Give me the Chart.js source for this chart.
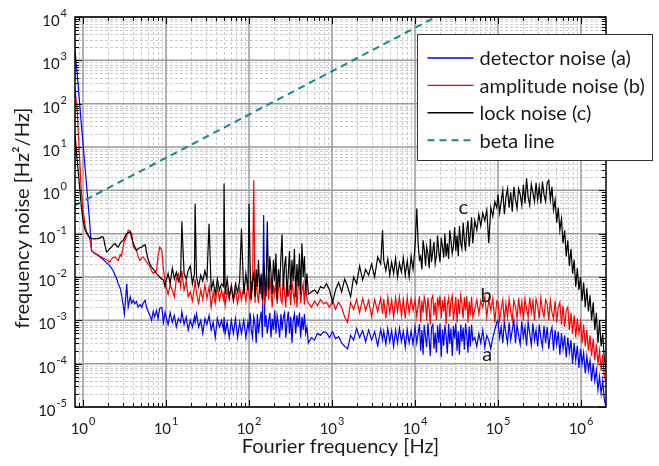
<!DOCTYPE html>
<html>
<head>
<meta charset="utf-8">
<script src="https://cdn.jsdelivr.net/npm/chart.js@4.4.1/dist/chart.umd.min.js"></script>
<style>
  body { margin: 0; background: #fff; }
</style>
</head>
<body>
<canvas id="noise-data" width="659" height="466"></canvas>
<script>
// Fourier frequencies [Hz], shared by the three measured spectra
const freq = [
    // 0.8 - 10 Hz
    0.8, 0.85, 0.9, 0.95, 1.0, 1.06, 1.12, 1.2, 1.27, 1.35, 1.45, 1.53, 1.6, 1.68, 1.76, 1.85, 1.93, 2.0, 2.1, 2.2,
    2.3, 2.43, 2.55, 2.66, 2.8, 2.9, 3.05, 3.15, 3.25, 3.36, 3.5, 3.7, 3.86, 4.04, 4.2, 4.4, 4.6, 4.86, 5.1, 5.3,
    5.6, 5.85, 6.1, 6.4, 6.7, 7.0, 7.3, 7.7, 8.0, 8.4, 8.9, 9.3, 9.7,
    // 10 - 100 Hz
    10, 10.6, 11.2, 11.9, 12.6, 13.3, 14.1, 15, 15.5, 16.5, 17.5, 18.5, 19.6, 20.8, 22, 22.4, 23.3, 24.7, 26.2, 27.7,
    29.4, 31.1, 33, 35, 37, 39.2, 41.5, 44, 46.6, 49.4, 50, 51.5, 54.5, 57.8, 61.2, 64.8, 68.7, 72.8, 77.1, 81,
    86.5, 91.6, 97, 100,
    // 100 - 500 Hz
    103, 106.5, 110, 114, 118, 122, 126, 130, 135, 140, 145, 150, 155, 160, 166, 172, 178, 184, 190, 197,
    204, 211, 218, 226, 234, 242, 250, 259, 268, 277, 287, 297, 307, 318, 329, 340, 352, 365, 378, 391,
    405, 419, 434, 449, 465, 481, 498,
    // 500 Hz - 10 kHz
    520, 565, 615, 668, 726, 790, 858, 933, 1015, 1100, 1200, 1305, 1420, 1540, 1675, 1820, 1980, 2150, 2340, 2540,
    2760, 3000, 3260, 3550, 3860, 4060, 4200, 4450, 4700, 4960, 5230, 5520, 5830, 6150, 6490, 6850, 7230, 7630, 8050, 8500,
    8970, 9470,
    // 10 - 50 kHz
    10000, 10500, 10900, 11300, 11700, 12100, 12500, 12900, 13400, 13800, 14300, 14800, 15300, 15800, 16400, 16900,
    17500, 18100, 18700, 19400, 20000, 20700, 21400, 22200, 22900, 23700, 24500, 25400, 26200, 27100, 28100, 29000,
    30000, 31000, 32100, 33200, 34300, 35500, 36700, 38000, 39300, 40600, 42000, 43400, 44900, 46400, 48000, 49700,
    // 50 - 100 kHz
    52500, 55500, 58700, 62000, 65500, 69300, 73200, 77400, 81800, 86500, 91400, 96600,
    // 100 kHz - 2 MHz
    100000, 104500, 109200, 114100, 119200, 124600, 130200, 136000, 142100, 148500, 155200, 162200, 169500, 177100,
    185100, 193400, 202100, 211200, 220700, 230600, 241000, 251900, 263200, 275000, 287400, 300300, 313800, 328000,
    342700, 358100, 374200, 391100, 408700, 427100, 446300, 466400, 487400, 509300, 532200, 556200, 581200, 607400,
    634700, 663300, 693100, 724300, 756900, 791000, 826600, 863800, 902700, 943300, 985800, 1030000, 1076000, 1125000,
    1175000, 1228000, 1284000, 1341000, 1402000, 1465000, 1531000, 1600000, 1672000, 1747000, 1826000, 1908000, 1995000
];

// detector noise (a), Hz^2/Hz
const detectorNoise = [
    1700, 480, 130, 37, 12, 3.2, 0.9, 0.19, 0.04, 0.036, 0.033, 0.031, 0.029, 0.027, 0.025, 0.023, 0.021, 0.02, 0.018, 0.016,
    0.014, 0.011, 0.009, 0.007, 0.0055, 0.004, 0.0022, 0.0014, 0.003, 0.007, 0.002, 0.0035, 0.0025, 0.0029, 0.0024, 0.0027, 0.002, 0.0023, 0.002, 0.0025,
    0.0029, 0.0019, 0.0016, 0.0013, 0.001, 0.0016, 0.0012, 0.0017, 0.0011, 0.0019, 0.002, 0.0009, 0.0015,

    0.0012, 0.0008, 0.0015, 0.0009, 0.0013, 0.0007, 0.0011, 0.0009, 0.0016, 0.0008, 0.0012, 0.0006, 0.001, 0.0007, 0.0012, 0.0009, 0.0014, 0.0007, 0.001, 0.0005,
    0.0011, 0.0008, 0.0013, 0.0006, 0.0009, 0.0004, 0.0011, 0.0007, 0.001, 0.0006, 0.0012, 0.0005, 0.0009, 0.0004, 0.001, 0.0005, 0.0011, 0.0004, 0.0009, 0.0005,
    0.001, 0.0004, 0.0009, 0.0006,

    0.0015, 0.0006, 0.0004, 0.0012, 0.0008, 0.0003, 0.0014, 0.0005, 0.001, 0.0016, 0.0004, 0.27, 0.0007, 0.0013, 0.0005, 0.0009, 0.0015, 0.0004, 0.0011, 0.0006,
    0.0017, 0.0005, 0.0013, 0.0008, 0.0004, 0.0014, 0.0006, 0.0012, 0.0015, 0.0004, 0.0009, 0.0016, 0.0005, 0.0012, 0.0003, 0.001, 0.0014, 0.0005, 0.0013, 0.0007,
    0.0015, 0.0004, 0.0012, 0.0006, 0.0014, 0.0005, 0.0007,

    3e-4, 4e-4, 3.5e-4, 5e-4, 4.5e-4, 5.5e-4, 5.2e-4, 4e-4, 5.5e-4, 3.8e-4, 4.2e-4, 3e-4, 2.5e-4, 2.2e-4, 4.5e-4, 3.5e-4, 6.5e-4, 4e-4, 5.8e-4, 3.2e-4,
    6e-4, 3.5e-4, 5.5e-4, 2.6e-4, 6.2e-4, 3.5e-4, 5.6e-4, 2.8e-4, 6.5e-4, 3.2e-4, 5.8e-4, 2.5e-4, 6e-4, 3e-4, 6.6e-4, 3.3e-4, 5.5e-4, 2.4e-4, 6.2e-4, 3e-4,
    5.7e-4, 2.8e-4,

    7e-4, 3e-4, 5e-4, 8.2e-4, 2e-4, 6e-4, 1.6e-4, 7.8e-4, 4e-4, 2.4e-4, 8.5e-4, 3.5e-4, 1.5e-4, 6.8e-4, 8e-4, 2.2e-4,
    5.2e-4, 1.8e-4, 7.6e-4, 3e-4, 8.4e-4, 1.4e-4, 6.2e-4, 2.6e-4, 7.8e-4, 4.4e-4, 1.7e-4, 8.2e-4, 2.9e-4, 6.5e-4, 1.5e-4, 7.4e-4,
    3.8e-4, 8.6e-4, 2e-4, 5.6e-4, 1.6e-4, 8e-4, 3.2e-4, 6.8e-4, 2.1e-4, 8.4e-4, 4.6e-4, 1.8e-4, 7.2e-4, 2.5e-4, 8e-4, 3.4e-4,

    4e-4, 2.5e-4, 5e-4, 3e-4, 6e-4, 2.4e-4, 4.5e-4, 3.5e-4, 2.2e-4, 4e-4, 6e-4, 9e-4,

    0.001, 0.0004, 0.0007, 0.0003, 0.00095, 0.0005, 0.0003, 0.0009, 0.00035, 0.0006, 0.001, 0.0003, 0.0008, 0.00045,
    0.00028, 0.00095, 0.0004, 0.0007, 0.00026, 0.0009, 0.0005, 0.00027, 0.00085, 0.00035, 0.0006, 0.00025, 0.0008, 0.0004,
    0.00024, 0.00075, 0.0003, 0.0007, 0.00022, 0.0005, 0.00068, 0.0002, 0.0006, 0.00028, 0.00055, 0.00016, 0.0005, 0.00022,
    0.00045, 0.00014, 0.0004, 0.00018, 0.00035, 0.0001, 0.0003, 0.00012, 0.00026, 0.00008, 0.00022, 0.0001, 0.00018, 0.00006,
    0.00015, 0.00007, 0.00012, 0.00004, 0.0001, 0.00004, 0.00007, 0.000025, 0.00005, 0.00002, 0.00004, 0.000015, 0.00001
];

// amplitude noise (b), Hz^2/Hz
const amplitudeNoise = [
    220, 70, 8, 1.0, 0.35, 0.15, 0.1, 0.08, 0.041, 0.037, 0.034, 0.032, 0.03, 0.029, 0.027, 0.026, 0.025, 0.024, 0.022, 0.026,
    0.028, 0.029, 0.026, 0.024, 0.033, 0.03, 0.05, 0.07, 0.075, 0.09, 0.12, 0.115, 0.1, 0.05, 0.045, 0.041, 0.03, 0.024, 0.028, 0.029,
    0.025, 0.022, 0.02, 0.017, 0.014, 0.012, 0.013, 0.014, 0.03, 0.049, 0.041, 0.015, 0.0085,

    0.006, 0.004, 0.0065, 0.005, 0.0035, 0.009, 0.012, 0.006, 0.014, 0.005, 0.008, 0.0035, 0.0045, 0.0028, 0.006, 0.009, 0.004, 0.0025, 0.005, 0.003,
    0.0065, 0.0032, 0.006, 0.002, 0.0045, 0.0025, 0.006, 0.003, 0.005, 0.003, 0.0045, 0.0022, 0.005, 0.003, 0.0065, 0.0028, 0.005, 0.0025, 0.0055, 0.003,
    0.006, 0.0028, 0.007, 0.004,

    0.003, 0.008, 0.005, 1.7, 0.0025, 0.009, 0.004, 0.0025, 0.01, 0.0045, 0.003, 0.007, 0.0022, 0.005, 0.008, 0.003, 0.0095, 0.0045, 0.002, 0.0065,
    0.004, 0.008, 0.0024, 0.0055, 0.0075, 0.003, 0.0025, 0.009, 0.0045, 0.002, 0.007, 0.0035, 0.0065, 0.0022, 0.008, 0.0045, 0.0028, 0.0075, 0.002, 0.006,
    0.0085, 0.0025, 0.005, 0.007, 0.0023, 0.008, 0.003,

    0.0025, 0.002, 0.0028, 0.0022, 0.003, 0.0024, 0.0026, 0.002, 0.0029, 0.0018, 0.0026, 0.002, 0.0012, 0.0009, 0.0026, 0.0018, 0.003, 0.0015, 0.0032, 0.0017,
    0.0029, 0.0012, 0.003, 0.0016, 0.0033, 0.0014, 0.0031, 0.0011, 0.0034, 0.0015, 0.0029, 0.0012, 0.0033, 0.0016, 0.0035, 0.0013, 0.003, 0.0011, 0.0034, 0.0015,
    0.0032, 0.0017,

    0.003, 0.0012, 0.0022, 0.0036, 0.0009, 0.0028, 0.0015, 0.0035, 0.0024, 0.001, 0.0033, 0.0018, 0.0008, 0.0031, 0.0037, 0.0013,
    0.0026, 0.001, 0.0034, 0.002, 0.0038, 0.0011, 0.0029, 0.0016, 0.0036, 0.0008, 0.0023, 0.0033, 0.0012, 0.0028, 0.0037, 0.001,
    0.0019, 0.0035, 0.0009, 0.0031, 0.0014, 0.0038, 0.0025, 0.0011, 0.0034, 0.0017, 0.0036, 0.0009, 0.0027, 0.0013, 0.0035, 0.0012,

    0.0018, 0.003, 0.0014, 0.0028, 0.002, 0.0035, 0.0012, 0.003, 0.0017, 0.0032, 0.0009, 0.0028,

    0.0026, 0.001, 0.0018, 0.003, 0.0009, 0.0024, 0.0012, 0.0031, 0.0016, 0.001, 0.0029, 0.0021, 0.0011, 0.0033,
    0.0014, 0.0027, 0.001, 0.0032, 0.0018, 0.0012, 0.0034, 0.0015, 0.0028, 0.001, 0.0031, 0.0022, 0.0011, 0.0033,
    0.0017, 0.0012, 0.003, 0.0024, 0.001, 0.0029, 0.0015, 0.0011, 0.0028, 0.0009, 0.002, 0.0026, 0.0008, 0.0022,
    0.0007, 0.0017, 0.002, 0.0006, 0.0015, 0.0005, 0.0013, 0.0004, 0.0011, 0.0005, 0.0009, 0.0003, 0.0008, 0.00025,
    0.0006, 0.0002, 0.00045, 0.00015, 0.00038, 0.00012, 0.00028, 0.0001, 0.0002, 0.00007, 0.00016, 0.00005, 0.00004
];

// lock noise (c), Hz^2/Hz
const lockNoise = [
    20, 5, 1.5, 0.45, 0.2, 0.12, 0.1, 0.08, 0.077, 0.076, 0.077, 0.077, 0.08, 0.085, 0.083, 0.05, 0.038, 0.04, 0.045, 0.049,
    0.055, 0.059, 0.052, 0.049, 0.06, 0.065, 0.07, 0.08, 0.09, 0.1, 0.105, 0.11, 0.08, 0.059, 0.05, 0.041, 0.045, 0.048, 0.049, 0.053,
    0.055, 0.035, 0.025, 0.02, 0.017, 0.015, 0.014, 0.012, 0.011, 0.01, 0.009, 0.0085, 0.006,

    0.008, 0.012, 0.007, 0.016, 0.009, 0.013, 0.008, 0.011, 0.19, 0.012, 0.009, 0.014, 0.018, 0.007, 0.012, 0.49, 0.01, 0.006, 0.011, 0.008,
    0.014, 0.009, 0.17, 0.005, 0.008, 0.004, 0.009, 0.005, 0.007, 0.006, 1.43, 0.004, 0.009, 0.0035, 0.006, 0.003, 0.007, 0.0045, 0.008, 0.13,
    0.004, 0.012, 0.005, 0.49,

    0.02, 0.003, 0.008, 0.012, 0.0035, 0.015, 0.006, 0.025, 0.004, 0.012, 0.003, 0.022, 0.009, 0.0035, 0.19, 0.005, 0.03, 0.012, 0.004, 0.025,
    0.008, 0.035, 0.003, 0.015, 0.006, 0.028, 0.096, 0.005, 0.018, 0.03, 0.0035, 0.012, 0.04, 0.005, 0.025, 0.008, 0.045, 0.0035, 0.02, 0.006,
    0.035, 0.004, 0.06, 0.01, 0.03, 0.004, 0.012,

    0.004, 0.0045, 0.005, 0.0042, 0.006, 0.0055, 0.007, 0.005, 0.0026, 0.005, 0.0075, 0.0045, 0.009, 0.006, 0.0035, 0.01, 0.007, 0.018, 0.0085, 0.015,
    0.011, 0.02, 0.01, 0.029, 0.02, 0.12, 0.024, 0.014, 0.026, 0.011, 0.022, 0.012, 0.027, 0.01, 0.021, 0.013, 0.028, 0.011, 0.024, 0.01,
    0.03, 0.015,

    0.05, 0.38, 0.06, 0.025, 0.03, 0.015, 0.07, 0.045, 0.018, 0.05, 0.035, 0.016, 0.075, 0.022, 0.04, 0.065,
    0.02, 0.03, 0.09, 0.035, 0.022, 0.08, 0.05, 0.028, 0.1, 0.03, 0.06, 0.026, 0.12, 0.07, 0.035, 0.05,
    0.14, 0.04, 0.09, 0.03, 0.15, 0.06, 0.045, 0.18, 0.07, 0.04, 0.12, 0.2, 0.05, 0.1, 0.24, 0.06,

    0.2, 0.12, 0.28, 0.15, 0.3, 0.2, 0.35, 0.06, 0.4, 0.25, 0.55, 0.4,

    0.8, 0.3, 0.55, 1.0, 0.28, 0.7, 1.1, 0.4, 0.9, 0.32, 1.2, 0.6, 0.38, 1.1,
    0.8, 0.45, 1.35, 0.5, 1.9, 0.7, 0.45, 1.4, 0.9, 0.55, 1.5, 0.6, 1.2, 0.5,
    1.6, 0.8, 0.55, 1.5, 1.7, 0.6, 1.2, 0.35, 0.6, 0.18, 0.4, 0.12, 0.22, 0.06,
    0.12, 0.03, 0.07, 0.018, 0.045, 0.012, 0.025, 0.006, 0.016, 0.005, 0.01, 0.0028, 0.0075, 0.002,
    0.0055, 0.0016, 0.0038, 0.001, 0.0026, 0.0006, 0.0015, 0.0003, 0.001, 0.00025, 0.0005, 0.00013, 0.00008
];

// beta separation line, end points
const betaFreq = [0.8, 2e6];
const betaLine = [0.45, 1.12e6];

const seriesNames = ['detector noise (a)', 'amplitude noise (b)', 'lock noise (c)', 'beta line'];
const seriesColors = ['#0000ff', '#ff0000', '#000000', '#108a8a'];

// curve letters: text, frequency, value at the text baseline
const curveTags = ['a', 'b', 'c'];
const tagFreq = [74300, 71600, 38200];
const tagValue = [1.15e-4, 2.64e-3, 0.279];

const xDecades = [0, 1, 2, 3, 4, 5, 6];
const yDecades = [-5, -4, -3, -2, -1, 0, 1, 2, 3, 4];

const fontName = 'Lato, "Open Sans", sans-serif';
const textColor = '#1a1a1a';

function toPoints(values) {
    return freq.map((f, i) => ({ x: f, y: values[i] }));
}

function minorValues(scale, fromExp, toExp) {
    const out = [];
    for (let e = fromExp; e <= toExp; e++) {
        for (let m = 2; m <= 9; m++) {
            const v = m * Math.pow(10, e);
            if (v > scale.min && v < scale.max) out.push(v);
        }
    }
    return out;
}

function powLabel(ctx, exp, px, baseline, align) {
    const base = '10';
    const sup = String(exp);
    ctx.font = '15px ' + fontName;
    const wb = ctx.measureText(base).width;
    ctx.font = '11px ' + fontName;
    const ws = ctx.measureText(sup).width;
    const total = wb + 1 + ws;
    const left = align === 'center' ? px - total / 2 : px - total;
    ctx.textAlign = 'left';
    ctx.textBaseline = 'alphabetic';
    ctx.font = '15px ' + fontName;
    ctx.fillText(base, left, baseline);
    ctx.font = '11px ' + fontName;
    ctx.fillText(sup, left + wb + 1, baseline - 9);
}

const axesPlugin = {
    id: 'axesPlugin',
    beforeDatasetsDraw(chart) {
        const { ctx, chartArea: a, scales: { x, y } } = chart;
        ctx.save();
        // minor grid, dashed
        ctx.strokeStyle = '#cdcdcd';
        ctx.lineWidth = 1;
        ctx.setLineDash([3, 2]);
        minorValues(x, -1, 6).forEach(v => {
            const p = Math.round(x.getPixelForValue(v)) + 0.5;
            ctx.beginPath(); ctx.moveTo(p, a.top); ctx.lineTo(p, a.bottom); ctx.stroke();
        });
        minorValues(y, -5, 3).forEach(v => {
            const p = Math.round(y.getPixelForValue(v)) + 0.5;
            ctx.beginPath(); ctx.moveTo(a.left, p); ctx.lineTo(a.right, p); ctx.stroke();
        });
        // decade grid, solid
        ctx.setLineDash([]);
        ctx.strokeStyle = '#9a9a9a';
        ctx.lineWidth = 1.5;
        xDecades.forEach(e => {
            const p = x.getPixelForValue(Math.pow(10, e));
            ctx.beginPath(); ctx.moveTo(p, a.top); ctx.lineTo(p, a.bottom); ctx.stroke();
        });
        yDecades.forEach(e => {
            const p = y.getPixelForValue(Math.pow(10, e));
            ctx.beginPath(); ctx.moveTo(a.left, p); ctx.lineTo(a.right, p); ctx.stroke();
        });
        ctx.restore();
    },
    afterDatasetsDraw(chart) {
        const { ctx, chartArea: a, scales: { x, y } } = chart;
        ctx.save();

        // inward ticks on all four sides
        ctx.strokeStyle = '#000';
        ctx.lineWidth = 1;
        const tickX = (v, len) => {
            const p = Math.round(x.getPixelForValue(v)) + 0.5;
            ctx.beginPath();
            ctx.moveTo(p, a.bottom); ctx.lineTo(p, a.bottom - len);
            ctx.moveTo(p, a.top); ctx.lineTo(p, a.top + len);
            ctx.stroke();
        };
        const tickY = (v, len) => {
            const p = Math.round(y.getPixelForValue(v)) + 0.5;
            ctx.beginPath();
            ctx.moveTo(a.left, p); ctx.lineTo(a.left + len, p);
            ctx.moveTo(a.right, p); ctx.lineTo(a.right - len, p);
            ctx.stroke();
        };
        minorValues(x, -1, 6).forEach(v => tickX(v, 4));
        minorValues(y, -5, 3).forEach(v => tickY(v, 4));
        xDecades.forEach(e => tickX(Math.pow(10, e), 7));
        yDecades.forEach(e => tickY(Math.pow(10, e), 7));

        // frame
        ctx.lineWidth = 1.5;
        ctx.strokeRect(a.left, a.top, a.right - a.left, a.bottom - a.top);

        // tick labels
        ctx.fillStyle = textColor;
        xDecades.forEach(e => powLabel(ctx, e, x.getPixelForValue(Math.pow(10, e)), a.bottom + 27, 'center'));
        yDecades.forEach(e => powLabel(ctx, e, a.left - 8, y.getPixelForValue(Math.pow(10, e)) + 9, 'right'));

        // axis titles
        ctx.font = '20px ' + fontName;
        ctx.textAlign = 'center';
        ctx.textBaseline = 'alphabetic';
        ctx.fillText('Fourier frequency [Hz]', (a.left + a.right) / 2, a.bottom + 46);
        ctx.save();
        ctx.translate(29, (a.top + a.bottom) / 2 + 6);
        ctx.rotate(-Math.PI / 2);
        ctx.fillText('frequency noise [Hz\u00b2/Hz]', 0, 0);
        ctx.restore();

        // curve letters
        ctx.font = '20px ' + fontName;
        ctx.textAlign = 'center';
        curveTags.forEach((t, i) => {
            ctx.fillText(t, x.getPixelForValue(tagFreq[i]), y.getPixelForValue(tagValue[i]));
        });

        // legend box
        const box = { left: 417.5, top: 34.5, width: 235, height: 126 };
        ctx.fillStyle = '#fff';
        ctx.fillRect(box.left, box.top, box.width, box.height);
        ctx.strokeStyle = '#333';
        ctx.lineWidth = 1;
        ctx.strokeRect(box.left, box.top, box.width, box.height);
        ctx.font = '20px ' + fontName;
        ctx.textAlign = 'left';
        ctx.textBaseline = 'middle';
        seriesNames.forEach((name, i) => {
            const ry = box.top + 23.5 + i * 27.4;
            ctx.strokeStyle = seriesColors[i];
            ctx.lineWidth = i === 3 ? 2 : 1.4;
            ctx.setLineDash(i === 3 ? [7, 5] : []);
            ctx.beginPath(); ctx.moveTo(box.left + 10, ry); ctx.lineTo(box.left + 56, ry); ctx.stroke();
            ctx.setLineDash([]);
            ctx.fillStyle = textColor;
            ctx.fillText(name, box.left + 62, ry + 1);
        });
        ctx.restore();
    }
};

const noiseCtx = document.getElementById('noise-data').getContext('2d');

new Chart(noiseCtx, {
    type: 'line',
    data: {
        datasets: [{
            label: seriesNames[3],
            data: betaFreq.map((f, i) => ({ x: f, y: betaLine[i] })),
            borderColor: seriesColors[3],
            borderWidth: 2,
            borderDash: [7, 5]
        }, {
            label: seriesNames[2],
            data: toPoints(lockNoise),
            borderColor: seriesColors[2],
            borderWidth: 1.2
        }, {
            label: seriesNames[1],
            data: toPoints(amplitudeNoise),
            borderColor: seriesColors[1],
            borderWidth: 1.2
        }, {
            label: seriesNames[0],
            data: toPoints(detectorNoise),
            borderColor: seriesColors[0],
            borderWidth: 1.2
        }]
    },
    options: {
        responsive: false,
        animation: false,
        layout: { padding: { left: 75, top: 17, right: 53, bottom: 59 } },
        elements: { point: { radius: 0 }, line: { tension: 0 } },
        plugins: { legend: { display: false }, tooltip: { enabled: false } },
        scales: {
            x: { type: 'logarithmic', min: 0.8, max: 2e6, display: false },
            y: { type: 'logarithmic', min: 1e-5, max: 1e4, display: false }
        }
    },
    plugins: [axesPlugin]
});
</script>
</body>
</html>
